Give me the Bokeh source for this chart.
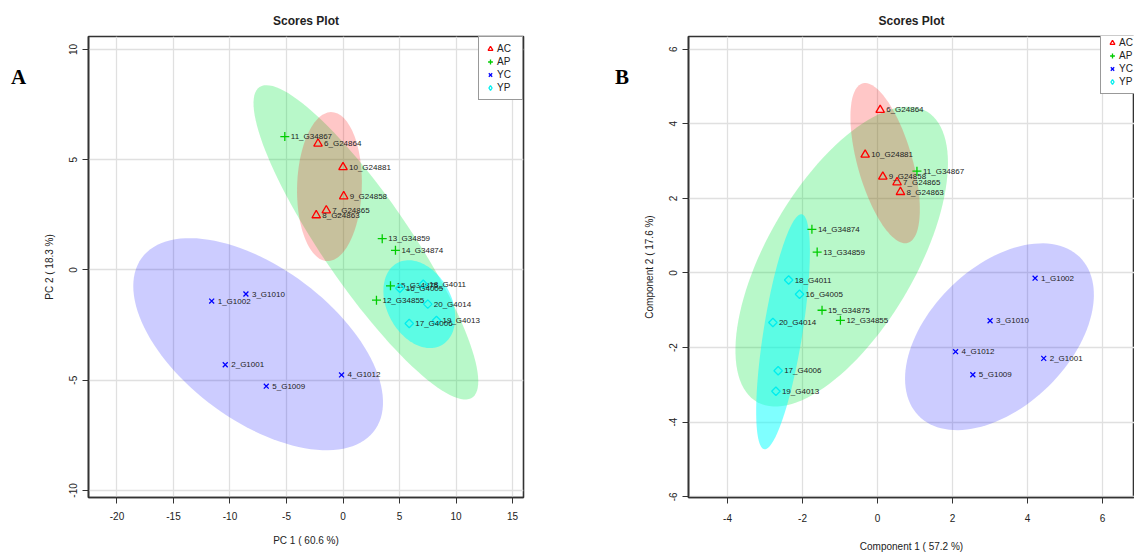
import numpy as np
from bokeh.plotting import figure
from bokeh.models import FixedTicker, Legend, LegendItem, ColumnDataSource, Range1d, Div
from bokeh.layouts import row
from bokeh.embed import file_html
from bokeh.resources import INLINE
from bokeh.core.properties import value

# ---------------- data ----------------
groups = ["AC", "AP", "YC", "YP"]

sample_names = ["6_G24864", "7_G24865", "8_G24863", "9_G24858", "10_G24881",
                "11_G34867", "12_G34855", "13_G34859", "14_G34874", "15_G34875",
                "1_G1002", "2_G1001", "3_G1010", "4_G1012", "5_G1009",
                "16_G4005", "17_G4006", "18_G4011", "19_G4013", "20_G4014"]
sample_groups = ["AC"] * 5 + ["AP"] * 5 + ["YC"] * 5 + ["YP"] * 5

# Panel A: PCA scores
pca_x = [-2.21, -1.48, -2.37, 0.06, 0.00,
         -5.15, 2.96, 3.47, 4.64, 4.20,
         -11.62, -10.42, -8.59, -0.13, -6.79,
         5.03, 5.86, 7.10, 8.27, 7.50]
pca_y = [5.73, 2.70, 2.48, 3.34, 4.66,
         6.05, -1.37, 1.42, 0.89, -0.72,
         -1.41, -4.30, -1.09, -4.76, -5.27,
         -0.83, -2.43, -0.65, -2.29, -1.55]

# Panel B: PLS-DA scores
pls_x = [0.07, 0.52, 0.61, 0.14, -0.33,
         1.05, -0.99, -1.61, -1.75, -1.48,
         4.20, 4.43, 3.00, 2.08, 2.54,
         -2.08, -2.65, -2.37, -2.71, -2.79]
pls_y = [4.37, 2.43, 2.17, 2.58, 3.17,
         2.73, -1.27, 0.56, 1.17, -1.00,
         -0.14, -2.29, -1.28, -2.11, -2.73,
         -0.57, -2.62, -0.19, -3.17, -1.33]

pca_xticks = [-20, -15, -10, -5, 0, 5, 10, 15]
pca_yticks = [-10, -5, 0, 5, 10]
pls_xticks = [-4, -2, 0, 2, 4, 6]
pls_yticks = [-6, -4, -2, 0, 2, 4, 6]

# ---------------- styles ----------------
FONT = "Liberation Sans"
point_colors = {"AC": "#FF0000", "AP": "#00CC00", "YC": "#0000FF", "YP": "#00EEEE"}
fill_colors = {"AC": "#FF0000", "AP": "#00E63C", "YC": "#0000FF", "YP": "#00FFFF"}
fill_alphas = {"AC": 0.22, "AP": 0.28, "YC": 0.2, "YP": 0.5}
markers = {"AC": "triangle", "AP": "cross", "YC": "x", "YP": "square"}
legend_markers = {"AC": "triangle", "AP": "cross", "YC": "x", "YP": "diamond"}
msizes = {"AC": 8.5, "AP": 9, "YC": 7, "YP": 6}
angles = {"AC": 0, "AP": 0, "YC": 0, "YP": np.pi / 4}
draw_order = ["AP", "AC", "YC", "YP"]


def conf_ellipse(xs, ys, n=120):
    pts = np.column_stack([xs, ys])
    c = pts.mean(axis=0)
    cov = np.cov(pts, rowvar=False)
    vals, vecs = np.linalg.eigh(cov)
    r = np.sqrt(5.991464547107979)  # 95% chi-square, 2 df
    t = np.linspace(0, 2 * np.pi, n)
    circ = np.stack([np.cos(t), np.sin(t)])
    e = vecs @ (np.sqrt(vals)[:, None] * circ) * r
    return c[0] + e[0], c[1] + e[1]


def make_panel(xs, ys, xr, yr, xticks, yticks, xlabel, ylabel, width,
               borders, std, legend_loc):
    p = figure(width=width, height=554, x_range=Range1d(*xr), y_range=Range1d(*yr),
               output_backend="svg", toolbar_location=None,
               min_border_left=borders[0], min_border_right=borders[1],
               min_border_top=borders[2], min_border_bottom=borders[3])
    p.background_fill_color = "white"
    p.border_fill_color = "white"
    p.outline_line_color = "#333333"
    p.outline_line_width = 1.6
    p.title.text = "Scores Plot"
    p.title.align = "center"
    p.title.text_font = FONT
    p.title.text_font_size = "12px"
    p.title.text_font_style = "bold"
    p.title.text_color = "#222222"
    p.title.standoff = 18
    p.grid.grid_line_color = "#e0e0e0"
    p.grid.grid_line_width = 1.3
    p.xaxis.ticker = FixedTicker(ticks=xticks)
    p.yaxis.ticker = FixedTicker(ticks=yticks)
    p.xgrid.ticker = FixedTicker(ticks=xticks)
    p.ygrid.ticker = FixedTicker(ticks=yticks)
    p.xaxis.major_label_overrides = {t: str(t) for t in xticks}
    p.yaxis.major_label_overrides = {t: str(t) for t in yticks}
    for ax in (p.xaxis[0], p.yaxis[0]):
        ax.major_tick_out = 6
        ax.major_tick_in = 0
        ax.minor_tick_line_color = None
        ax.axis_line_color = "#333333"
        ax.axis_line_width = 1.6
        ax.major_tick_line_color = "#333333"
        ax.major_label_text_font = FONT
        ax.major_label_text_font_size = "10px"
        ax.major_label_text_color = "#222222"
        ax.axis_label_text_font = FONT
        ax.axis_label_text_font_size = "10px"
        ax.axis_label_text_font_style = "normal"
        ax.axis_label_text_color = "#222222"
    p.xaxis.axis_label = xlabel
    p.yaxis.axis_label = ylabel
    p.yaxis.major_label_orientation = "vertical"
    p.xaxis.major_label_standoff = std[0]
    p.xaxis.axis_label_standoff = std[1]
    p.yaxis.major_label_standoff = std[2]
    p.yaxis.axis_label_standoff = std[3]

    xs = np.array(xs)
    ys = np.array(ys)
    g = np.array(sample_groups)
    names = np.array(sample_names)
    for grp in draw_order:
        m = g == grp
        ex, ey = conf_ellipse(xs[m], ys[m])
        p.patch(ex, ey, fill_color=fill_colors[grp], fill_alpha=fill_alphas[grp], line_color=None)

    leg_rends = {}
    for grp in groups:
        m = g == grp
        src = ColumnDataSource(dict(x=xs[m], y=ys[m], name=names[m]))
        p.scatter("x", "y", source=src, marker=markers[grp], size=msizes[grp],
                  angle=angles[grp], line_color=point_colors[grp],
                  fill_color=None, line_width=1.3)
        p.text("x", "y", text="name", source=src, x_offset=6, text_baseline="middle",
               text_align="left", text_font=value(FONT), text_font_size="8px",
               text_color="#222222")
        # legend key only (no visible point)
        leg_rends[grp] = p.scatter(x=[np.nan], y=[np.nan], marker=legend_markers[grp], size=8,
                                   line_color=point_colors[grp], fill_color=None,
                                   line_width=1.3)

    legend = Legend(items=[LegendItem(label=grp, renderers=[leg_rends[grp]]) for grp in groups],
                    location=legend_loc, margin=0, padding=5, spacing=0,
                    glyph_width=12, glyph_height=13, label_height=13, label_standoff=1,
                    label_text_font=FONT, label_text_font_size="10px",
                    label_text_color="#222222", border_line_color="#333333",
                    border_line_width=1, background_fill_color="white",
                    background_fill_alpha=1)
    p.add_layout(legend)
    return p


def letter_div(letter, width, left):
    html = ('<div style="margin-top:65px;margin-left:%dpx;font-family:\'Liberation Serif\';'
            'font-weight:bold;font-size:21px;line-height:24px;color:black">%s</div>' % (left, letter))
    return Div(text=html, width=width, height=554, margin=0)


divA = letter_div("A", 28, 11)
pA = make_panel(pca_x, pca_y, (-22.52, 15.97), (-10.32, 10.59), pca_xticks, pca_yticks,
                "PC 1 ( 60.6 %)", "PC 2 ( 18.3 %)", 532, (60, 37, 36, 56),
                (8, 12, 5, 12), "top_right")

divB = letter_div("B", 80, 55)
pB = make_panel(pls_x, pls_y, (-5.04, 6.85), (-6.02, 6.34), pls_xticks, pls_yticks,
                "Component 1 ( 57.2 %)", "Component 2 ( 17.6 %)", 494, (48, 0, 36, 53),
                (10, 16, 5, 12), (412, 403))

layout = row(divA, pA, divB, pB)
open("out.html", "w").write(file_html(layout, INLINE))
